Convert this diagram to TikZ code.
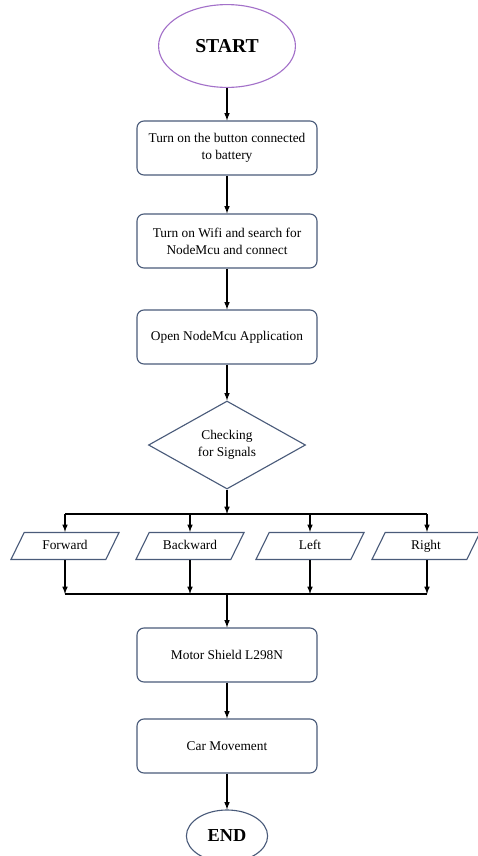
\documentclass[tikz,border=0pt]{standalone}
\usepackage{fontspec}
\setmainfont{Liberation Serif}
\usepackage{xcolor}
\usetikzlibrary{arrows.meta, positioning, shapes.geometric}
\definecolor{boxline}{HTML}{4A5B7A}
\definecolor{startline}{HTML}{A371C9}

\tikzset{
  stepbox/.style={draw=boxline, thick, rounded corners=5pt, minimum width=4.5cm, minimum height=1.35cm, align=center, font=\fontsize{9.5}{12}\selectfont},
  termnode/.style={ellipse, thick, font=\fontsize{14}{16}\selectfont\bfseries, inner sep=0pt},
  checknode/.style={diamond, draw=boxline, thick, minimum width=3.925cm, minimum height=2.2cm, aspect=1.8, inner sep=0pt, align=center, font=\fontsize{9.5}{12}\selectfont},
  signalbox/.style={trapezium, trapezium stretches body, trapezium left angle=50, trapezium right angle=130, draw=boxline, thick, minimum width=2.7cm, minimum height=0.675cm, inner sep=1pt, text height=1.6ex, text depth=0.4ex, font=\fontsize{9.5}{12}\selectfont},
  flow/.style={thick, black, -latex}
}

\begin{document}
\begin{tikzpicture}[x=0.025cm, y=-0.025cm]
  \useasboundingbox (0,0) rectangle (478,856);
  % Main column
  \node[termnode, draw=startline, minimum width=3.42cm, minimum height=2.07cm] (start) at (227,46) {START};
  \node[stepbox] (button) at (227,148) {Turn on the button connected\\to battery};
  \node[stepbox] (wifi) at (227,241) {Turn on Wifi and search for\\NodeMcu and connect};
  \node[stepbox] (app) at (227,337) {Open NodeMcu Application};
  \node[checknode] (check) at (227,445) {Checking\\for Signals};
  % Signal branches
  \node[signalbox] (forward) at (65,546) {Forward};
  \node[signalbox] (backward) at (190,546) {Backward};
  \node[signalbox] (left) at (310,546) {Left};
  \node[signalbox] (right) at (426,546) {Right};
  \node[stepbox] (motor) at (227,655) {Motor Shield L298N};
  \node[stepbox] (car) at (227,746) {Car Movement};
  \node[termnode, draw=boxline, minimum width=2.03cm, minimum height=1.3cm, font=\fontsize{13}{15}\selectfont\bfseries] (end) at (227,836) {END};
  % Bus coordinates
  \coordinate (split) at (227,514);
  \coordinate (join) at (227,594);
  \draw[flow] (start) -- (button);
  \draw[flow] (button) -- (wifi);
  \draw[flow] (wifi) -- (app);
  \draw[flow] (app) -- (check);
  \draw[flow] (check) -- (split);
  \draw[thick] (65,514) -- (427,514);
  \draw[thick] (65,594) -- (427,594);
  \foreach \sig/\x in {forward/65, backward/190, left/310, right/427} {
    \draw[flow] (\x,514) -- (\sig.north -| \x,514);
    \draw[flow] (\sig.south -| \x,514) -- (\x,594);
  }
  \draw[flow] (join) -- (motor);
  \draw[flow] (motor) -- (car);
  \draw[flow] (car) -- (end);
\end{tikzpicture}
\end{document}
